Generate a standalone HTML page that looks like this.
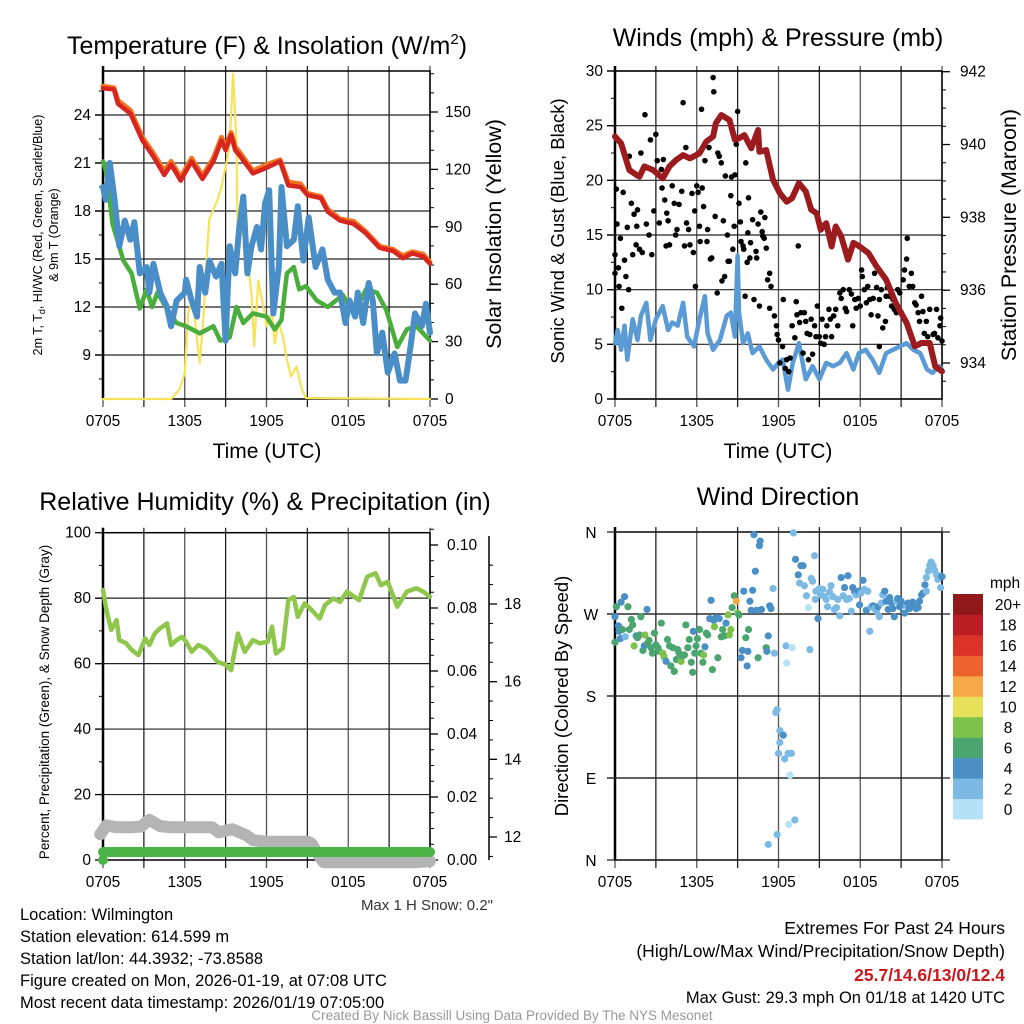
<!DOCTYPE html>
<html><head><meta charset="utf-8"><title>Mesonet Station Meteogram</title>
<style>
html,body{margin:0;padding:0;background:#fff;}
svg{display:block;font-family:"Liberation Sans",Arial,sans-serif;}
</style></head>
<body>
<svg id="fig" width="1024" height="1024" viewBox="0 0 1024 1024" xmlns="http://www.w3.org/2000/svg">
<rect x="0" y="0" width="1024" height="1024" fill="#fff"/>
<text x="267" y="54" font-size="25" text-anchor="middle">Temperature (F) &amp; Insolation (W/m<tspan font-size="15" dy="-10">2</tspan><tspan dy="10">)</tspan></text>
<text x="778" y="46" font-size="25" text-anchor="middle">Winds (mph) &amp; Pressure (mb)</text>
<text x="265" y="510" font-size="25" text-anchor="middle">Relative Humidity (%) &amp; Precipitation (in)</text>
<text x="778" y="505" font-size="25" text-anchor="middle">Wind Direction</text>

<text x="267" y="458" font-size="21" text-anchor="middle">Time (UTC)</text>
<text x="778" y="458" font-size="21" text-anchor="middle">Time (UTC)</text>
<text transform="translate(42,235) rotate(-90)" font-size="12.5" text-anchor="middle">2m T, T<tspan font-size="9" dy="3">d</tspan><tspan dy="-3">, HI/WC (Red, Green, Scarlet/Blue)</tspan></text>
<text transform="translate(58,235) rotate(-90)" font-size="12.5" text-anchor="middle">&amp; 9m T (Orange)</text>
<text transform="translate(501,234) rotate(-90)" font-size="21.5" text-anchor="middle">Solar Insolation (Yellow)</text>
<text transform="translate(564,231) rotate(-90)" font-size="18.5" text-anchor="middle">Sonic Wind &amp; Gust (Blue, Black)</text>
<text transform="translate(1016,235) rotate(-90)" font-size="21.5" text-anchor="middle">Station Pressure (Maroon)</text>
<text transform="translate(49,702) rotate(-90)" font-size="13.5" text-anchor="middle">Percent, Precipitation (Green), &amp; Snow Depth (Gray)</text>
<text transform="translate(568,696) rotate(-90)" font-size="18.5" text-anchor="middle">Direction (Colored By Speed)</text>

<text x="493" y="910" font-size="15" text-anchor="end" fill="#333">Max 1 H Snow: 0.2"</text>

<g font-size="16.5" fill="#000">
<text x="20" y="920">Location: Wilmington</text>
<text x="20" y="942">Station elevation: 614.599 m</text>
<text x="20" y="964">Station lat/lon: 44.3932; -73.8588</text>
<text x="20" y="986">Figure created on Mon, 2026-01-19, at 07:08 UTC</text>
<text x="20" y="1008">Most recent data timestamp: 2026/01/19 07:05:00</text>
</g>
<g font-size="17.5" text-anchor="end">
<text x="1005" y="934">Extremes For Past 24 Hours</text>
<text x="1005" y="957">(High/Low/Max Wind/Precipitation/Snow Depth)</text>
<text x="1005" y="981" fill="#c8191e" font-weight="bold">25.7/14.6/13/0/12.4</text>
<text x="1005" y="1003" font-size="16.5">Max Gust: 29.3 mph On 01/18 at 1420 UTC</text>
</g>
<text x="512" y="1020" font-size="13.5" fill="#999" text-anchor="middle">Created By Nick Bassill Using Data Provided By The NYS Mesonet</text>
</svg>
<script>
// ---------- DATA ----------
const timeLabels = ["0705","1305","1905","0105","0705"];
// Temperature panel
const tempHours = [0,0.8,1.1,2,2.9,3.7,4.5,5,5.7,6.5,7.3,8.1,8.7,9,9.4,9.7,10,11,12,13,13.6,14.5,15,16,16.5,17.4,18.4,19.3,20.3,21.3,22,22.7,23.5,24];
const tempT = [25.67,25.6,24.7,24.1,22.4,21.4,20.25,20.9,19.9,21.1,20.0,21.1,22.4,21.8,22.75,21.8,21.5,20.35,20.7,21.1,19.6,19.5,19.0,18.8,17.95,17.4,17.2,16.6,15.7,15.5,15.05,15.35,15.15,14.7];
const temp9m = [25.8,25.7,24.9,24.3,22.6,21.6,20.5,21.1,20.1,21.3,20.2,21.3,22.6,22.0,22.9,22.0,21.7,20.5,20.9,21.2,19.8,19.7,19.1,18.9,18.1,17.5,17.35,16.7,15.8,15.6,15.2,15.45,15.3,14.8];
const dewHours = [0,0.25,0.7,1.5,2.1,2.7,3.2,3.6,4,4.6,5.4,6.1,7.1,8.1,8.6,9.3,9.8,10.3,11,12,12.6,13.1,13.5,14,14.4,14.9,15.7,16.5,17.6,18.4,19.3,20.1,20.8,21.6,22.3,23,24];
const dewpoint = [21.1,20.4,17.2,14.9,14.1,11.9,13.1,12.0,12.9,12.0,11.0,10.8,10.35,10.8,9.9,10.1,12.0,11.0,11.6,11.4,10.6,11.2,14.1,14.5,13.1,13.3,12.4,12.0,12.75,11.6,13.1,12.9,11.8,9.5,10.6,10.8,9.9];
const wcHours = [0,0.2,0.5,0.85,1.2,1.6,2,2.3,2.7,3.2,3.4,3.7,4.2,4.7,5,5.4,6,6.1,6.5,6.9,7.1,7.5,7.8,8.3,8.7,9,9.3,9.7,10,10.3,10.6,10.9,11.3,11.6,11.9,12.2,12.5,12.9,13.1,13.5,14,14.3,14.7,15.1,15.6,16.1,16.5,17,17.4,17.8,18.1,18.5,18.7,19.1,19.5,19.8,20.1,20.5,20.9,21.4,21.8,22.2,22.5,22.9,23.4,23.7,24];
const windChill = [19.5,18.7,21.0,18.7,15.8,17.4,16.2,17.3,14.1,14.5,12.9,14.7,12.9,12.0,10.8,12.4,12.9,13.7,12.4,11.4,14.5,12.9,14.9,13.9,14.7,9.9,15.8,14.1,17.0,18.9,14.1,15.8,17.0,15.6,18.5,19.3,11.6,14.5,19.5,15.8,16.2,18.3,14.9,17.6,14.5,15.6,13.7,12.9,12.9,11.0,12.4,11.4,12.9,11.0,13.5,12.4,9.1,10.4,7.9,9.1,7.4,7.4,9.1,11.6,10.8,12.2,10.4];
const solHours = [0,5,5.6,6,6.25,6.6,6.85,7.1,7.4,7.6,7.8,8.1,8.4,8.7,9.1,9.3,9.55,9.8,9.9,10.2,10.5,10.9,11.1,11.4,11.8,12,12.4,12.6,12.9,13.2,13.5,13.8,14.2,14.6,14.9,24];
const insolation = [0,0,4.9,13.6,45,52,34.5,19,45,73,94,99,104,111,125,134,170,134,73,91,80,55,27.5,62,47,38,45,29,40,33,20.6,11.8,17,4.9,0.5,0];
// Wind panel
const presHours = [0,0.45,1.05,1.55,1.8,2.15,2.8,3.5,4,4.5,5,5.5,6.2,6.7,7.2,7.4,7.8,8.4,8.8,9.1,9.5,10,10.5,10.6,11.1,11.6,12.1,12.6,13,13.5,14,14.4,14.8,15.1,15.5,15.9,16.2,16.6,17.1,17.5,17.95,18.6,19.2,19.9,20.6,21.4,22,22.5,23.1,23.5,24];
const pressure = [940.22,940.03,939.3,939.17,939.12,939.4,939.3,939.07,939.4,939.58,939.71,939.62,939.76,940.08,940.22,940.58,940.81,940.67,940.13,940.17,940.26,939.9,940.4,939.8,939.85,939.03,938.66,938.43,938.53,938.94,938.71,938.21,938.11,937.66,937.84,937.2,937.75,937.48,936.84,937.3,937.2,937.02,936.65,936.29,935.65,935.1,934.46,934.55,934.55,933.91,933.77];
const sonicHours = [0,0.2,0.45,0.7,0.9,1.3,1.65,1.9,2.3,2.6,3,3.5,3.9,4.2,4.6,5,5.3,5.8,6.2,6.6,6.8,7.2,7.7,8.2,8.5,8.8,9,9.1,9.4,9.75,10.1,10.6,11.1,11.6,12,12.3,12.7,13.05,13.5,14,14.5,15,15.5,16,16.5,17,17.5,17.9,18.4,18.9,19.4,19.9,20.4,20.9,21.4,21.9,22.4,22.9,23.3,23.8,24];
const sonicWind = [5.1,6.3,4.5,6.7,3.6,7.3,5.4,7.6,8.8,5.4,7.3,8.5,6.3,7.0,6.7,8.8,5.7,4.8,7.3,9.4,6.0,4.5,5.4,7.6,7.9,5.7,13.1,7.9,5.1,6.0,4.2,4.8,3.6,2.7,3.3,3.6,0.85,3.3,5.1,1.8,3.0,1.8,3.3,3.0,3.3,4.2,2.7,4.2,4.5,3.6,2.4,4.2,4.5,4.8,5.1,4.5,4.2,2.7,2.4,3.0,2.7];
const gustHours = [0,0,0.1,0.15,0.25,0.3,0.4,0.5,0.6,0.7,0.8,0.9,1.0,1.05,1.2,1.3,1.4,1.55,1.6,1.65,1.8,1.9,2.0,2.2,2.3,2.5,2.6,2.7,2.85,3.0,3.1,3.25,3.4,3.45,3.55,3.65,3.75,3.8,3.9,4.0,4.2,4.35,4.45,4.55,4.7,4.9,5.0,5.1,5.2,5.25,5.4,5.5,5.65,5.75,5.85,5.9,6.0,6.1,6.2,6.25,6.35,6.4,6.5,6.6,6.75,6.8,6.9,7.0,7.1,7.2,7.25,7.35,7.5,7.55,7.65,7.8,7.85,7.95,8.05,8.1,8.25,8.3,8.4,8.5,8.55,8.65,8.75,8.8,8.9,9.0,9.1,9.2,9.25,9.4,9.45,9.55,9.6,9.7,9.75,9.8,9.9,9.95,10.1,10.2,10.35,10.4,10.5,10.6,10.7,10.8,10.85,10.95,11.0,11.1,11.2,11.35,11.45,11.35,11.7,11.85,11.9,12.0,12.1,12.3,12.35,12.5,12.6,12.75,12.85,13.0,13.2,13.3,13.35,13.45,13.55,13.65,13.8,13.9,14.0,14.1,14.2,14.3,14.4,14.5,14.65,14.75,14.85,15.0,15.1,15.2,15.35,15.45,15.55,15.7,15.8,15.9,16.05,16.2,16.35,16.5,16.6,16.75,16.9,17.0,17.2,17.35,17.45,17.6,17.7,17.85,18.0,18.1,18.15,18.3,18.45,18.55,18.7,18.8,18.95,19.05,19.2,19.3,19.4,19.55,19.65,19.85,19.9,20.0,20.15,20.3,20.4,20.5,20.65,20.75,20.9,21.0,21.15,21.25,21.4,21.45,21.6,21.75,21.85,22.0,22.1,22.25,22.35,22.5,22.6,22.7,22.85,22.95,23.1,23.35,23.45,23.6,23.7,23.85,23.9,24.0,19.4];
const gust = [13.2,11.5,19.2,16.0,12.0,10.3,14.7,8.3,18.9,12.7,11.2,15.7,10.0,22.2,17.9,13.2,16.9,14.1,15.8,17.3,13.7,22.5,13.4,26.0,16.0,15.0,23.7,13.2,17.2,24.2,21.8,16.1,21.0,19.3,21.9,18.2,14.0,17.0,16.3,14.1,19.5,17.9,15.0,15.5,17.8,19.0,27.1,14.0,23.0,16.1,15.5,14.1,18.8,13.4,17.2,10.3,19.5,18.9,15.8,14.4,26.5,19.3,17.6,21.8,14.4,15.5,23.0,12.8,12.9,29.4,28.1,16.7,9.7,22.5,22.2,21.6,10.8,16.3,11.2,20.4,15.0,12.6,12.6,18.6,20.3,13.7,15.8,20.5,23.3,26.3,17.9,16.2,14.4,14.0,13.7,9.4,21.6,12.5,15.2,18.4,12.9,14.3,16.4,9.1,13.5,12.9,16.0,8.5,17.1,15.3,14.9,14.7,16.6,13.8,10.9,11.5,10.3,8.3,7.6,6.7,5.9,5.4,3.3,4.8,9.1,2.8,3.6,2.5,3.75,6.7,5.6,8.9,7.7,14.0,7.0,7.9,4.2,7.9,7.1,6.0,3.6,5.9,7.3,4.1,6.7,5.7,8.5,5.7,5.1,7.3,5.0,5.7,6.7,8.2,7.3,5.7,7.6,8.2,6.7,9.7,9.2,10.0,8.3,8.0,10.0,9.6,6.7,9.1,8.3,9.2,8.5,11.8,11.2,10.0,8.8,10.3,9.1,7.7,9.2,11.5,10.2,7.6,9.1,10.0,6.5,7.1,9.4,10.2,9.4,8.5,9.1,8.2,7.9,10.0,9.7,7.9,10.9,11.8,12.8,14.7,10.3,11.5,10.3,8.8,8.6,7.9,7.1,9.4,8.0,6.0,7.1,5.7,8.2,5.9,6.0,8.2,5.6,6.7,7.4,5.3,4.8];
// Humidity panel
const rhHours = [0,0.25,0.6,1,1.2,1.7,2.1,2.6,3.1,3.4,3.8,4.2,4.7,5,5.4,5.8,6.1,6.5,7,7.5,8,8.4,9,9.4,9.9,10.4,11,11.5,12.1,12.4,12.7,13.2,13.6,14,14.3,14.8,15.3,15.9,16.3,16.9,17.4,17.9,18.8,19.4,20,20.4,20.9,21.6,22.3,23,23.5,24];
const relHumidity = [82.5,76.4,70.3,73.3,67.2,66.2,64.2,62.6,67.7,65.7,69.2,70.8,72.3,65.7,67.2,68.2,66.7,63.6,65.7,64.7,62.6,60.6,59.6,58.0,69.2,63.6,67.2,66.2,66.7,71.3,63.1,64.7,79.4,80.4,74.3,78.4,76.4,73.8,77.9,79.9,78.9,82.0,79.4,86.6,87.6,84.0,85.0,77.4,82.0,83.0,82.0,80.4];
const snowHours = [-0.2,0.25,1,2,2.8,3.4,4.2,5,6,7,8,8.5,9.5,10.5,11,12,13,14,15,15.3,15.7,16.2,17,18,19,20,21,22,23,24];
const snowDepth = [12.07,12.3,12.25,12.25,12.27,12.44,12.28,12.25,12.25,12.25,12.25,12.12,12.2,12.05,11.92,11.88,11.88,11.88,11.88,11.83,11.6,11.35,11.35,11.35,11.35,11.35,11.35,11.35,11.35,11.38];
const precipHours = [0,24];
const precip = [0,0];
// Direction panel
const dirHours = [0,0,0.1,0.25,0.3,0.4,0.45,0.55,0.7,0.75,0.95,1.05,1.2,1.3,1.4,1.55,1.65,1.8,1.9,2.05,2.15,2.2,2.35,2.4,2.5,2.65,2.75,2.9,3.0,3.15,3.25,3.4,3.5,3.6,3.75,3.85,4.0,4.1,4.25,4.35,4.5,4.6,4.7,4.85,4.95,5.1,5.2,5.35,5.45,5.6,5.7,5.75,5.85,5.95,6.05,6.2,6.3,6.45,6.5,6.6,6.7,6.8,6.95,7.05,7.15,7.25,7.3,7.4,7.55,7.65,7.8,7.9,8.05,8.15,8.3,8.4,8.5,8.6,8.75,8.9,9.0,9.1,9.25,9.35,9.45,9.6,9.7,9.75,9.8,9.9,10.0,10.1,10.2,10.3,10.4,10.5,10.6,10.65,10.75,11.1,11.15,11.25,11.35,11.45,11.6,11.7,11.8,11.9,11.25,11.9,12.1,12.1,12.35,12.0,12.45,12.55,12.6,12.7,12.85,13.0,12.95,12.75,13.2,13.1,13.25,13.45,13.55,13.65,13.8,13.9,14.05,14.2,14.3,14.4,14.5,14.65,14.7,14.75,14.9,15.0,15.1,15.25,15.4,15.5,15.6,15.75,15.85,16.0,16.1,16.25,16.35,16.5,16.6,16.75,16.85,17.0,17.1,17.2,17.35,17.45,17.6,17.7,17.85,17.95,18.05,18.2,18.3,18.45,18.55,18.7,18.8,18.95,19.05,19.2,19.3,19.4,19.55,19.65,19.8,19.9,20.05,20.15,20.3,20.4,20.5,20.65,20.75,20.9,21.0,21.15,21.25,21.4,21.5,21.6,21.75,21.85,22.0,22.1,22.25,22.35,22.5,22.6,22.75,22.85,23.0,23.1,23.2,23.35,23.45,23.6,23.7,23.85,23.9,24.0,22.85];
const dirDegrees = [267,239,278,257,251,243,283,253,289,245,278,253,264,258,235,246,244,247,267,230,235,247,275,238,241,233,227,249,236,233,229,260,227,223,218,242,235,213,233,207,220,231,227,218,224,225,258,233,242,217,206,251,227,235,243,253,227,217,225,234,249,247,265,285,209,263,256,266,222,265,245,253,246,260,269,247,253,277,290,284,271,269,222,230,295,244,213,229,253,284,274,296,357,317,274,222,345,350,275,233,229,246,279,276,298,227,162,165,17,28,142,129,137,117,111,235,216,117,93,233,117,39,44,359,330,313,304,323,323,301,290,277,231,309,306,334,286,295,265,298,291,297,289,286,278,294,301,289,275,277,286,268,310,290,299,286,312,287,273,299,294,291,295,280,293,307,297,274,295,251,278,279,276,273,278,267,282,291,295,284,275,288,282,276,267,284,287,278,284,280,271,279,282,276,280,283,278,276,277,284,291,293,302,310,317,323,327,323,318,313,308,312,299,311,295];
const dirSpeed = [5,7,7,5,5,5,5,7,5,3,7,7,7,7,9,5,7,7,7,7,5,9,5,7,7,7,7,7,7,7,7,7,9,9,5,7,7,7,7,7,7,7,7,9,7,7,7,7,7,7,7,5,7,7,7,7,7,7,9,5,7,7,5,5,7,5,9,5,7,5,7,7,7,5,9,9,9,7,7,13,9,7,5,5,5,7,5,5,7,5,5,5,5,5,5,7,5,5,5,7,5,5,5,5,3,3,3,3,3,3,3,3,5,3,3,3,1,3,1,1,3,1,3,3,5,5,3,5,5,3,3,1,3,3,3,3,3,3,5,3,3,3,3,3,3,3,3,3,3,3,3,3,5,3,5,3,5,3,3,5,5,3,5,5,3,5,3,5,3,3,3,5,3,3,5,3,3,3,5,5,5,5,5,5,5,3,5,5,5,5,5,3,5,5,5,5,5,5,5,5,5,5,5,3,3,3,3,3,3,3,3,3,3,5,3];
const speedBins = ["0","2","4","6","8","10","12","14","16","18","20+"];
const speedColors = ["#b5e2f7","#7cb9e3","#4a8fc6","#4aa56f","#7dc24b","#e6e158","#f5a946","#ee622c","#dc3328","#bb1d25","#91181b"];
</script>
<script>
const NS = "http://www.w3.org/2000/svg";
const svg = document.getElementById("fig");
function mk(tag, attrs, parent){
  const e = document.createElementNS(NS, tag);
  for (const k in attrs) e.setAttribute(k, attrs[k]);
  (parent || svg).appendChild(e);
  return e;
}
function lin(d0,d1,p0,p1){ return v => p0 + (v-d0)/(d1-d0)*(p1-p0); }
function pathFrom(xs, ys, X, Y){
  let d = "";
  for (let i=0;i<xs.length;i++) d += (i? "L":"M") + X(xs[i]).toFixed(1) + "," + Y(ys[i]).toFixed(1);
  return d;
}
function panelFrame(name){
  const g = mk("g",{});
  
  
  return g;
}
function grid(g,x0,x1,y0,y1,yVals,Y){
  const X = lin(0,24,x0,x1);
  for (let h=0; h<=24; h+=3){
    const l = mk("line",{x1:X(h),x2:X(h),y1:y0-5,y2:y1+8,stroke:(h%6===0)?"#555":"#222","stroke-width":1.3},g);
    
    
  }
  yVals.forEach(v=>{
    const l = mk("line",{x1:x0-8,x2:x1,y1:Y(v),y2:Y(v),stroke:"#222","stroke-width":1.2},g);
    
    
  });
  timeLabels.forEach((t,i)=>{
    const tx = mk("text",{x:X(i*6),y:y1+27,"font-size":15.5,"text-anchor":"middle"},g);
    tx.textContent = t;
    
    
  });
  const b = mk("rect",{x:x0,y:y0,width:x1-x0,height:y1-y0,fill:"none",stroke:"#000","stroke-width":1.5},g);
  
  
  const la = mk("line",{x1:x0,x2:x0,y1:y0-5,y2:y1,stroke:"#000","stroke-width":2.5},g);
  
  
}
function yTicks(g,x,dir,vals,minor,Y,fmt,labelDx,name){
  minor.forEach(v=>{
    const t = mk("line",{x1:x,x2:x+dir*4,y1:Y(v),y2:Y(v),stroke:"#000","stroke-width":1},g);
    
    
  });
  vals.forEach(v=>{
    const t = mk("line",{x1:x,x2:x+dir*8,y1:Y(v),y2:Y(v),stroke:"#000","stroke-width":1.3},g);
    
    
    const tx = mk("text",{x:x+labelDx,y:Y(v)+5,"font-size":15.5,"text-anchor":dir<0?"end":"start"},g);
    tx.textContent = fmt(v);
    
    
  });
}
function range(a,b,s){ const r=[]; for(let v=a; v<=b+1e-9; v+=s) r.push(+v.toFixed(4)); return r; }
function line(xs,ys,X,Y,color,w,name,g){
  const p = mk("path",{d:pathFrom(xs,ys,X,Y),fill:"none",stroke:color,"stroke-width":w,"stroke-linejoin":"round","stroke-linecap":"round"},g);
  
  
  return p;
}

// ---------- Panel 1: temperature ----------
(function(){
  const x0=103,x1=430,y0=71,y1=399;
  const X = lin(0,24,x0,x1), Y = lin(12,24,307,115), Ys = lin(0,150,399,112);
  const g = panelFrame('temperature-panel');
  grid(g,x0,x1,y0,y1,[9,12,15,18,21,24],Y);
  yTicks(g,x0,-1,[9,12,15,18,21,24],range(7.5,25.5,1.5),Y,v=>String(v),-12,'temp-y');
  yTicks(g,x1,1,[0,30,60,90,120,150],range(0,170,10),Ys,v=>String(v),15,'insolation-y');
  const cg = mk("g",{});  
  line(solHours,insolation,X,Ys,"#f7e35a",2.2,'insolation-line',cg);
  line(dewHours,dewpoint,X,Y,"#4aae3c",4.5,'dewpoint-line',cg);
  line(wcHours,windChill,X,Y,"#4a8ec8",6,'wind-chill-line',cg);
  line(tempHours,temp9m,X,Y,"#f27420",5,'temp-9m-line',cg);
  line(tempHours,tempT,X,Y,"#d7261f",4.5,'temp-2m-line',cg);
})();

// ---------- Panel 2: winds ----------
(function(){
  const x0=615,x1=942,y0=71,y1=399;
  const X = lin(0,24,x0,x1), Y = lin(0,30,399,71), Yp = lin(934,942,363,71.7);
  const g = panelFrame('wind-panel');
  grid(g,x0,x1,y0,y1,[0,5,10,15,20,25,30],Y);
  yTicks(g,x0,-1,[0,5,10,15,20,25,30],range(2.5,27.5,5),Y,v=>String(v),-12,'wind-y');
  yTicks(g,x1,1,[934,936,938,940,942],range(933.5,941.5,0.5),Yp,v=>String(v),18,'pressure-y');
  const cg = mk("g",{});  
  line(sonicHours,sonicWind,X,Y,"#5b9bd5",4.5,'sonic-wind-line',cg);
  for (let i=0;i<gustHours.length;i++){
    const c = mk("circle",{cx:X(gustHours[i]),cy:Y(gust[i]),r:2.8,fill:"#000"},cg);
    
    
  }
  line(presHours,pressure,X,Yp,"#9b1b1e",6,'pressure-line',cg);
})();

// ---------- Panel 3: humidity ----------
(function(){
  const x0=103,x1=430,y0=532.7,y1=860;
  const X = lin(0,24,x0,x1), Y = lin(0,100,860,532.7), Yp = lin(0,0.1,860,545), Ysn = lin(12,18,837,604);
  const g = panelFrame('humidity-panel');
  grid(g,x0,x1,y0,y1,[20,40,60,80],Y);
  yTicks(g,x0,-1,[0,20,40,60,80,100],range(10,90,20),Y,v=>String(v),-12,'percent-y');
  yTicks(g,x1,1,[0,0.02,0.04,0.06,0.08,0.1],range(0,0.105,0.005),Yp,v=>v.toFixed(2),17,'precip-y');
  const sa = mk("line",{x1:489,x2:489,y1:536,y2:860,stroke:"#000","stroke-width":1.5},g);
  
  
  yTicks(g,489,1,[12,14,16,18],range(11.5,19,0.5),Ysn,v=>String(v),15,'snow-y');
  const cg = mk("g",{});  
  line(snowHours,snowDepth,X,Ysn,"#b4b4b4",12,'snow-depth-line',cg);
  line(precipHours,precip,X,v=>Yp(v)-8,"#4ab446",10,'precip-line',cg);
  const pd = mk("circle",{cx:X(0),cy:Yp(precip[0]),r:5,fill:"#4ab446"},cg);
  
  
  line(rhHours,relHumidity,X,Y,"#8fc64c",4.5,'humidity-line',cg);
})();

// ---------- Panel 4: direction ----------
(function(){
  const x0=615,x1=942,y0=532,y1=860;
  const X = lin(0,24,x0,x1), Y = lin(0,360,860,532);
  const g = panelFrame('direction-panel');
  const dirs = [[0,"N"],[90,"E"],[180,"S"],[270,"W"],[360,"N"]];
  grid(g,x0,x1,y0,y1,[90,180,270],Y);
  dirs.forEach(d=>{
    const t = mk("line",{x1:x0-8,x2:x1+8,y1:Y(d[0]),y2:Y(d[0]),stroke:"#222","stroke-width":1.2},g);
    
    
    const tx = mk("text",{x:x0-24,y:Y(d[0])+6,"font-size":15.5,"text-anchor":"middle"},g);
    tx.textContent = d[1];
    
    
  });
  const cg = mk("g",{});  
  for (let i=0;i<dirHours.length;i++){
    const bin = Math.min(10, Math.floor(dirSpeed[i]/2));
    const c = mk("circle",{cx:X(dirHours[i]),cy:Y(dirDegrees[i]),r:3.6,fill:speedColors[bin]},cg);
    
    
  }
  const cb = mk("g",{});  
  const top=594, bot=819, h=(bot-top)/speedBins.length;
  speedBins.forEach((lab,i)=>{
    const yy = bot - (i+1)*h;
    const r = mk("rect",{x:953,y:yy,width:30,height:h+0.5,fill:speedColors[i]},cb);
    
    
    const tx = mk("text",{x:1008,y:yy+h/2+6,"font-size":15.5,"text-anchor":"middle"},cb);
    tx.textContent = lab;
    
    
  });
  const u = mk("text",{x:990,y:588,"font-size":15.5},cb);
  u.textContent = "mph";
  
  
})();
</script>
</body></html>
